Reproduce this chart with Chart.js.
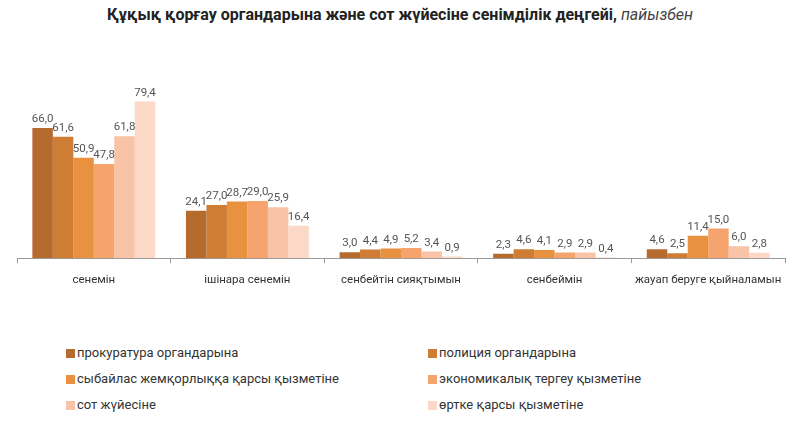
<!DOCTYPE html>
<html lang="kk">
<head>
<meta charset="UTF-8">
<title>Сенімділік деңгейі</title>
<script src="https://cdn.jsdelivr.net/npm/chart.js"></script>
<style>
    body { margin: 0; background: #fff; font-family: Roboto, "Liberation Sans", sans-serif; }
    #page { position: relative; width: 800px; height: 426px; overflow: hidden; }
    #title { position: absolute; top: 5px; left: 0; width: 800px; text-align: center;
             font-size: 16px; font-weight: bold; color: #222; }
    #title i { font-weight: normal; color: #444; }
    #chartBox { position: absolute; top: 0; left: 0; width: 800px; height: 297px; }
    #legend { position: absolute; top: 345px; left: 66px; display: grid;
              grid-template-columns: 362px 300px; row-gap: 11px; font-size: 13px; color: #333; }
    #legend span.box { display: inline-block; width: 9px; height: 9px; margin-right: 2px; vertical-align: -0.5px; }
</style>
</head>
<body>
<div id="page">
    <div id="title">Құқық қорғау органдарына және сот жүйесіне сенімділік деңгейі, <i>пайызбен</i></div>
    <div id="chartBox"><canvas id="trustChart"></canvas></div>
    <div id="legend"></div>
</div>

<script>
// категориялар
const categories = ["сенемін", "ішінара сенемін", "сенбейтін сияқтымын", "сенбеймін", "жауап беруге қыйналамын"];

// сериялар
const seriesNames = [
    "прокуратура органдарына",
    "полиция органдарына",
    "сыбайлас жемқорлыққа қарсы қызметіне",
    "экономикалық тергеу қызметіне",
    "сот жүйесіне",
    "өртке қарсы қызметіне"
];
const prokuratura = [66.0, 24.1, 3.0, 2.3, 4.6];
const policia     = [61.6, 27.0, 4.4, 4.6, 2.5];
const sybailas    = [50.9, 28.7, 4.9, 4.1, 11.4];
const ekonomika   = [47.8, 29.0, 5.2, 2.9, 15.0];
const sot         = [61.8, 25.9, 3.4, 2.9, 6.0];
const ortke       = [79.4, 16.4, 0.9, 0.4, 2.8];
const seriesValues = [prokuratura, policia, sybailas, ekonomika, sot, ortke];
const seriesColors = ["#b56a2e", "#cf7c34", "#e8913f", "#f4a46c", "#f8c3a6", "#fcd8c7"];

// ✅ Подписи значений над столбиками
const valueLabels = {
    id: "valueLabels",
    afterDatasetsDraw(chart) {
        const ctx = chart.ctx;
        ctx.save();
        ctx.font = "11.5px Roboto, sans-serif";
        ctx.fillStyle = "#555";
        ctx.textAlign = "center";
        ctx.textBaseline = "bottom";
        chart.data.datasets.forEach((ds, i) => {
            chart.getDatasetMeta(i).data.forEach((bar, j) => {
                ctx.fillText(ds.data[j].toFixed(1).replace(".", ","), bar.x, bar.y - 3);
            });
        });
        ctx.restore();
    }
};

const chart = new Chart(document.getElementById("trustChart"), {
    type: "bar",
    data: {
        labels: categories,
        datasets: seriesNames.map((name, i) => ({
            label: name,
            data: seriesValues[i],
            backgroundColor: seriesColors[i],
            borderWidth: 0
        }))
    },
    options: {
        responsive: true,
        maintainAspectRatio: false,
        animation: false,
        categoryPercentage: 0.8,
        barPercentage: 1.0,
        layout: { padding: { top: 61, left: 17, right: 15, bottom: 0 } },
        plugins: {
            legend: { display: false },
            tooltip: { enabled: false }
        },
        scales: {
            x: {
                grid: { offset: true, drawOnChartArea: false, drawTicks: true, tickLength: 5, color: "#999" },
                border: { display: true, color: "#999" },
                ticks: { color: "#333", font: { size: 11.5, family: "Roboto" }, padding: 10, maxRotation: 0, autoSkip: false }
            },
            y: {
                display: false,
                min: 0,
                max: 100
            }
        }
    },
    plugins: [valueLabels]
});

// ✅ Легенда в две колонки
const legendBox = document.getElementById("legend");
chart.data.datasets.forEach(ds => {
    legendBox.innerHTML += `<div><span class="box" style="background:${ds.backgroundColor}"></span>${ds.label}</div>`;
});
</script>
</body>
</html>
